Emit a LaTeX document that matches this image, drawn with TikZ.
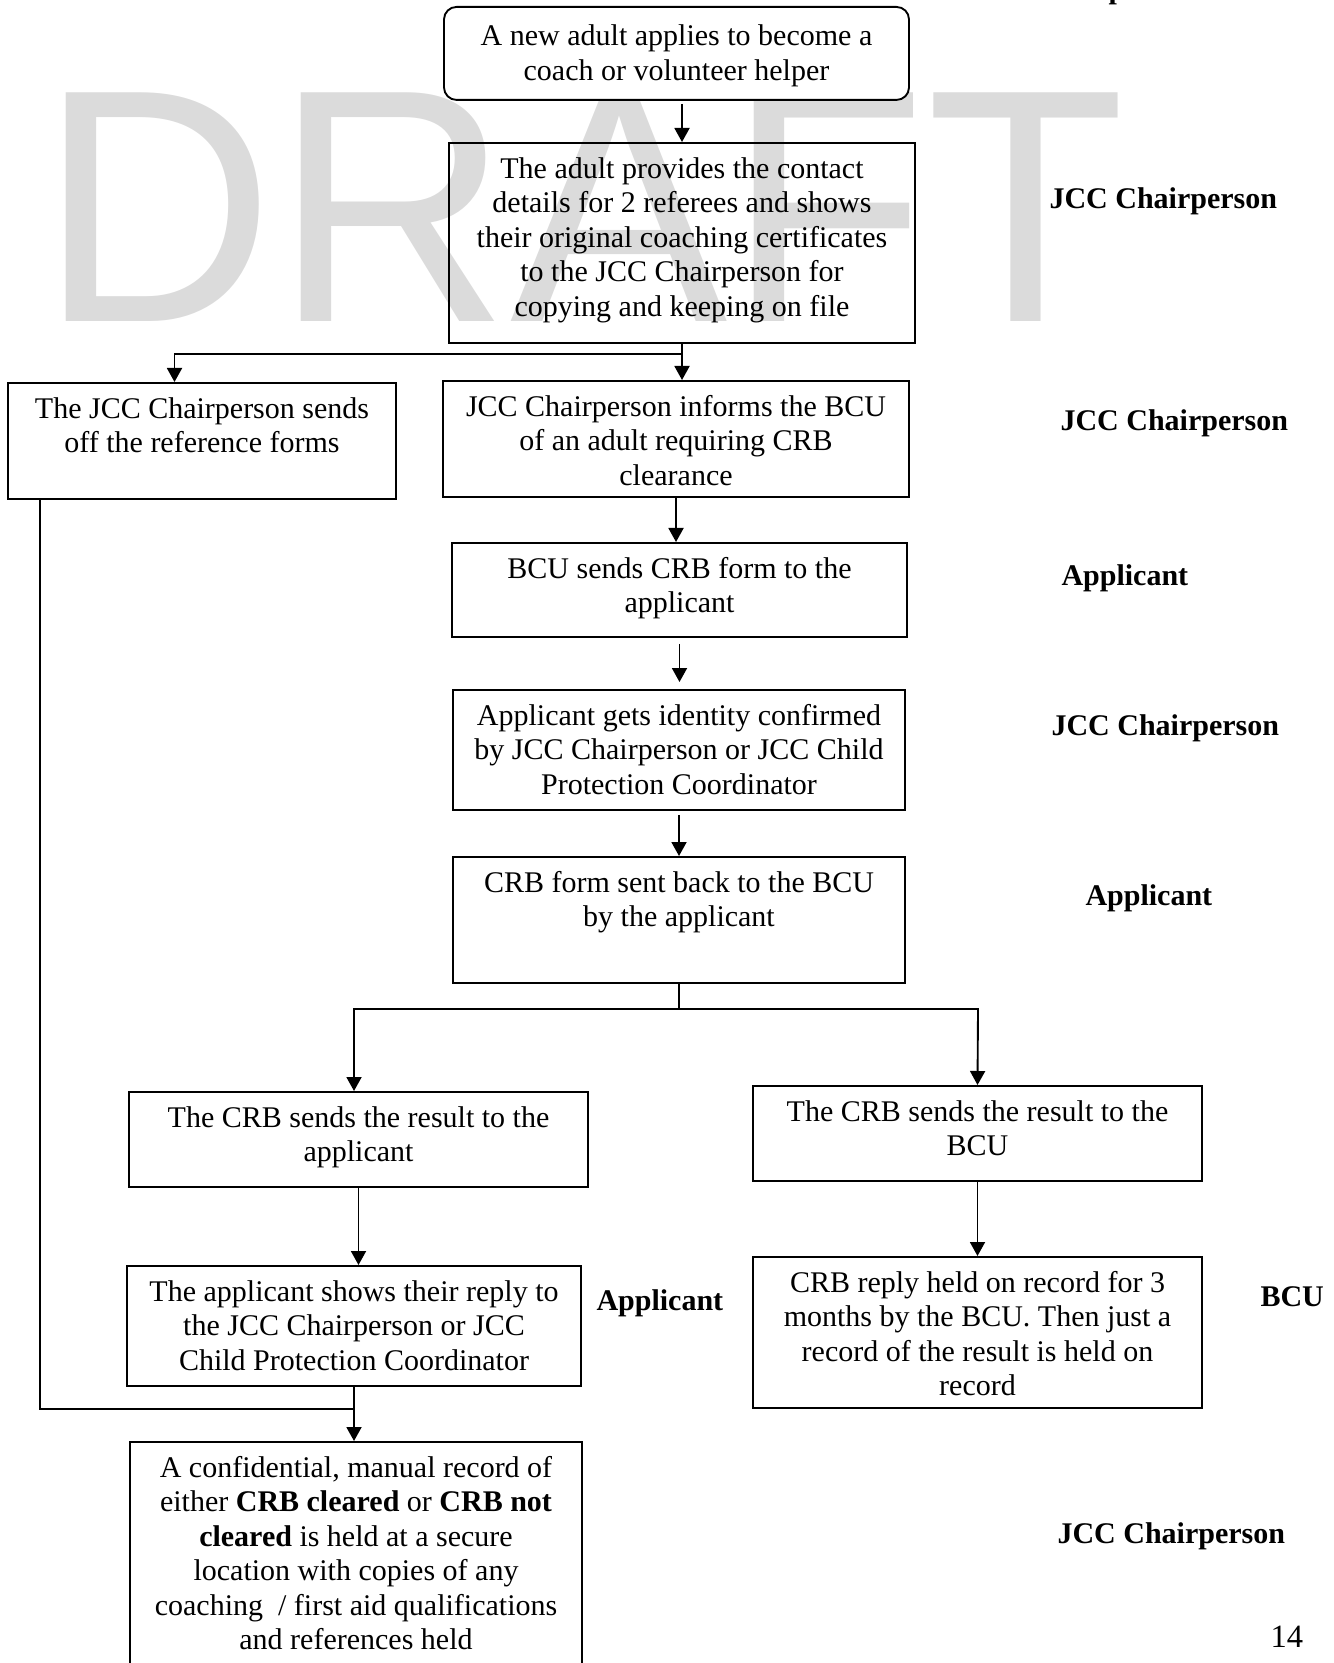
\documentclass[tikz,border=0pt]{standalone}
\usepackage{fontspec}
\setmainfont{Liberation Serif}
\newfontfamily\draftfont{Liberation Sans}
\usetikzlibrary{arrows.meta}
\tikzset{
  flowbox/.style  = {shape=rectangle, draw, line width=0.75pt, align=center,
                     anchor=north, inner xsep=2pt, inner ysep=4.6pt,
                     font=\fontsize{12}{13.8}\selectfont},
  startbox/.style = {flowbox, rounded corners=5pt, fill=white},
  role/.style     = {anchor=west, inner sep=0pt,
                     font=\fontsize{12}{13.8}\selectfont\bfseries},
  watermark/.style = {anchor=base west, inner sep=0pt, text=black!14,
                     font=\draftfont\fontsize{133}{133}\selectfont},
  flow/.style     = {draw, line width=0.75pt, -{Triangle[length=5.6pt,width=6pt]}}
}

\begin{document}
\begin{tikzpicture}[x=0.4pt, y=-0.4pt]
  \useasboundingbox (0,0) rectangle (1333,1663);
  \node [watermark, xscale=0.98] (draft) at (39,322) {DRAFT};
  \node [anchor=base west, inner sep=0pt, font=\fontsize{12}{13.8}\selectfont\bfseries] (cut) at (1108,-1.5) {p};

  \node [startbox, minimum width=186pt, text height=24.8pt, text depth=3.2pt] (apply) at (676.5,6)
    {A new adult applies to become a\\coach or volunteer helper};
  \node [flowbox, minimum width=186.6pt, text height=64.8pt, text depth=6pt] (details) at (682,142)
    {The adult provides the contact\\details for 2 referees and shows\\their original coaching certificates\\to the JCC Chairperson for\\copying and keeping on file};
  \node [flowbox, minimum width=155pt, text height=23.4pt, text depth=13.8pt] (refs) at (202,382)
    {The JCC Chairperson sends\\off the reference forms};
  \node [flowbox, minimum width=186.4pt, text height=37.2pt, text depth=0pt] (inform) at (676,380)
    {JCC Chairperson informs the BCU\\of an adult requiring CRB\\clearance};
  \node [flowbox, minimum width=182pt, text height=23.4pt, text depth=5pt] (form) at (679.5,542)
    {BCU sends CRB form to the\\applicant};
  \node [flowbox, minimum width=180.8pt, text height=37.2pt, text depth=1.6pt] (identity) at (679,689)
    {Applicant gets identity confirmed\\by JCC Chairperson or JCC Child\\Protection Coordinator};
  \node [flowbox, minimum width=180.8pt, text height=23.4pt, text depth=17.8pt] (sendback) at (679,856)
    {CRB form sent back to the BCU\\by the applicant};
  \node [flowbox, minimum width=183.6pt, text height=23.4pt, text depth=5.4pt] (toapp) at (358.5,1091)
    {The CRB sends the result to the\\applicant};
  \node [flowbox, minimum width=179.6pt, text height=23.4pt, text depth=5.4pt] (tobcu) at (977.5,1085)
    {The CRB sends the result to the\\BCU};
  \node [flowbox, minimum width=181.6pt, text height=37.2pt, text depth=1.6pt] (shows) at (354,1265)
    {The applicant shows their reply to\\the JCC Chairperson or JCC\\Child Protection Coordinator};
  \node [flowbox, minimum width=179.6pt, text height=51pt, text depth=0.2pt] (held) at (977.5,1256)
    {CRB reply held on record for 3\\months by the BCU. Then just a\\record of the result is held on\\record};
  \node [flowbox, minimum width=180.8pt, text height=78.6pt, text depth=8.2pt] (record) at (356,1441)
    {A confidential, manual record of\\either \textbf{CRB cleared} or \textbf{CRB not}\\\textbf{cleared} is held at a secure\\location with copies of any\\coaching~\ / first aid qualifications\\and references held};

  \node [role] (who1) at (1049,201) {JCC Chairperson};
  \node [role] (who2) at (1060,423) {JCC Chairperson};
  \node [role] (who3) at (1061,578) {Applicant};
  \node [role] (who4) at (1051,728) {JCC Chairperson};
  \node [role] (who5) at (1085,898) {Applicant};
  \node [role] (who6) at (596,1303) {Applicant};
  \node [role] (who7) at (1260,1297) {BCU};
  \node [role] (who8) at (1057,1536) {JCC Chairperson};
  \node [anchor=west, inner sep=0pt, font=\fontsize{13}{15}\selectfont] (page) at (1270,1637) {14};

  \coordinate (splitL) at (174.5,354);
  \coordinate (forkL) at (354,1009);
  \coordinate (forkR) at (978,1009);
  \coordinate (merge) at (354,1409);

  \draw [flow] ([yshift=-1.2pt]details.north |- apply.south) -- (details.north);
  \draw [flow] (details.south) |- (splitL) -- (splitL |- refs.north);
  \draw [flow] (details.south) -- (details.south |- inform.north);
  \draw [flow] (inform.south) -- (inform.south |- form.north);
  \draw [flow] ([yshift=-2.4pt]form.south) -- ([yshift=2.8pt]form.south |- identity.north);
  \draw [flow] ([yshift=-1.6pt]identity.south) -- (identity.south |- sendback.north);
  \draw [flow] (sendback.south) |- (forkL) -- (forkL |- toapp.north);
  \draw [flow] (sendback.south) |- (forkR) -- (tobcu.north);
  \draw [flow] (toapp.south) -- (toapp.south |- shows.north);
  \draw [flow] (tobcu.south) -- (held.north);
  \draw [flow] (shows.south) -- (shows.south |- record.north);
  \draw [line width=0.75pt] ([xshift=13pt]refs.south west) |- (merge);
\end{tikzpicture}
\end{document}
